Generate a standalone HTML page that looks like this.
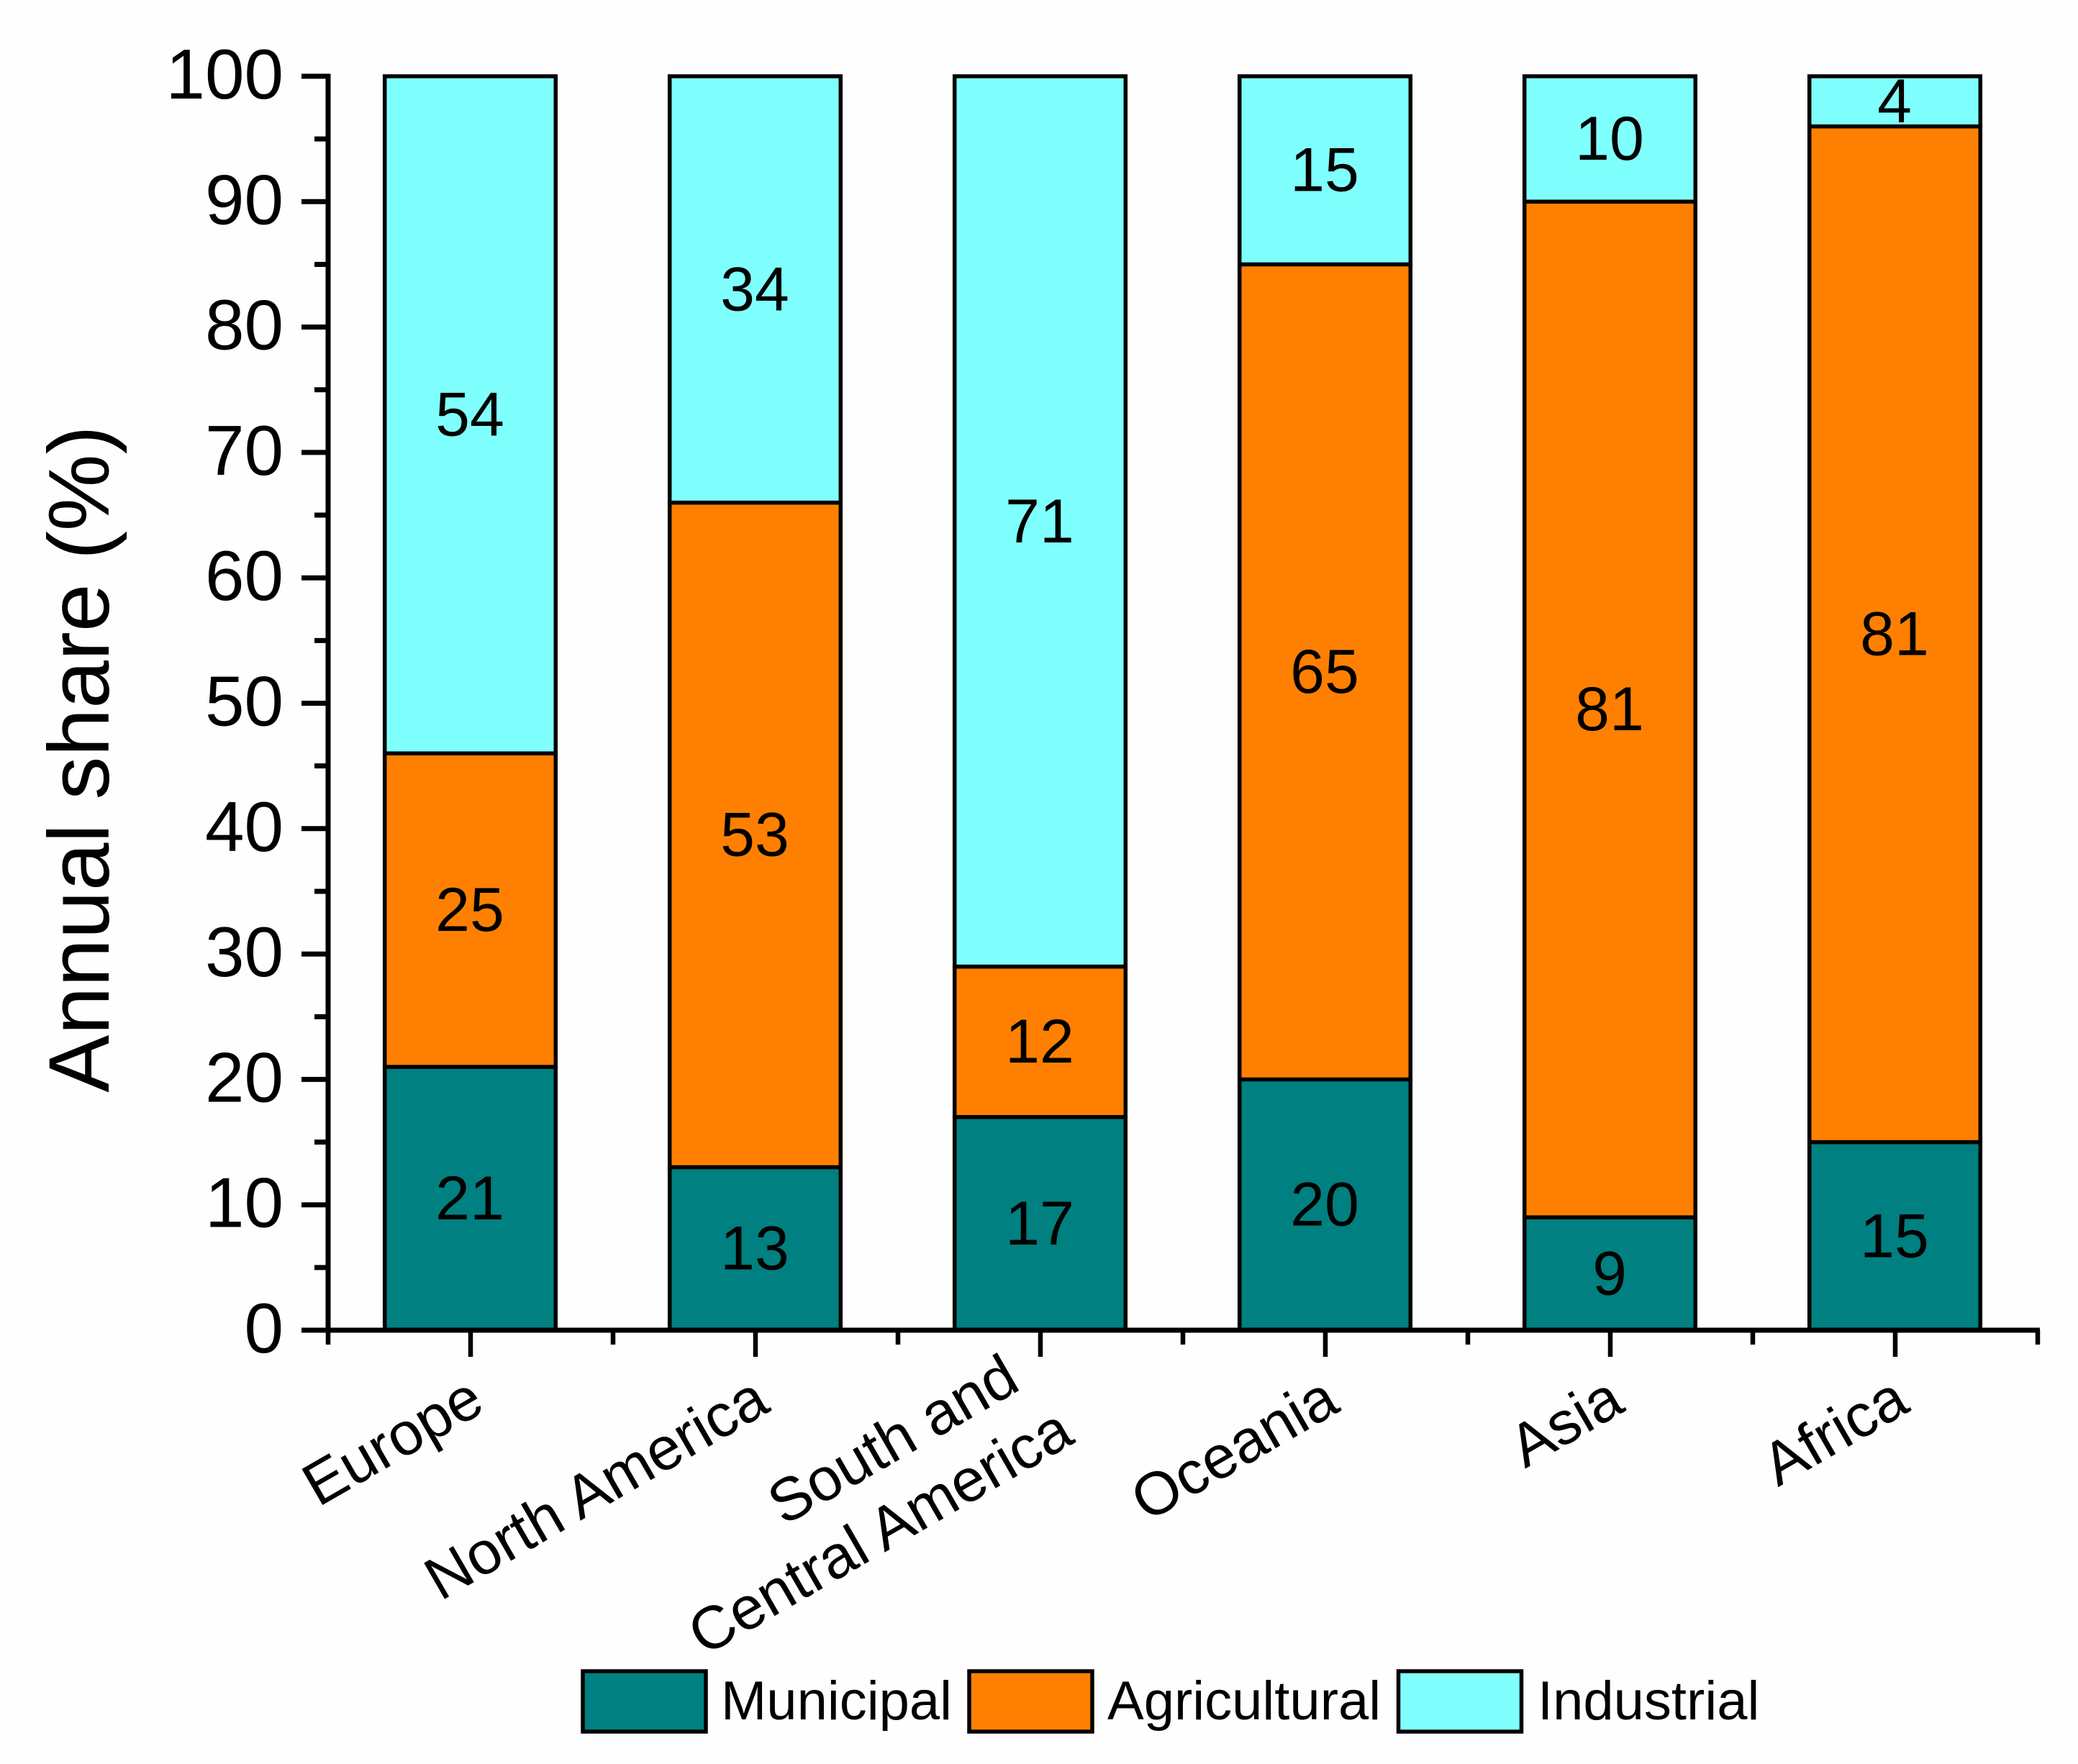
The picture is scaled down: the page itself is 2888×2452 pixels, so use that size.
<!DOCTYPE html>
<html lang="en">
<head>
<meta charset="utf-8">
<title>Annual water withdrawal share by continent</title>
<style>
  html, body { margin: 0; padding: 0; background: #ffffff; }
  svg { display: block; }
  text { font-family: "Liberation Sans", Arial, sans-serif; fill: #000000; }
</style>
</head>
<body>
<svg id="chart" xmlns="http://www.w3.org/2000/svg" width="2888" height="2452" viewBox="0 0 2888 2452">
  <rect x="0" y="0" width="2888" height="2452" fill="#fefefe"></rect>
  <g id="bars"></g>
  <g id="value-labels"></g>
  <g id="axes"></g>
  <g id="legend"></g>
</svg>
<script>
const categories = [["Europe"], ["North America"], ["South and", "Central America"], ["Oceania"], ["Asia"], ["Africa"]];
const municipal = [21, 13, 17, 20, 9, 15];
const agricultural = [25, 53, 12, 65, 81, 81];
const industrial = [54, 34, 71, 15, 10, 4];
const seriesNames = ["Municipal", "Agricultural", "Industrial"];
const yTickLabels = [0, 10, 20, 30, 40, 50, 60, 70, 80, 90, 100];
const yMinorTicks = [5, 15, 25, 35, 45, 55, 65, 75, 85, 95];

const seriesValues = [municipal, agricultural, industrial];
const seriesColors = ["#008080", "#ff8000", "#80ffff"];
const SVG_NS = "http://www.w3.org/2000/svg";
const PLOT_LEFT = 456, PLOT_RIGHT = 2832, PLOT_BOTTOM = 1849, PLOT_TOP = 106;
const BAR_FRACTION = 0.6;

function yScale(v) { return PLOT_BOTTOM - (v / 100) * (PLOT_BOTTOM - PLOT_TOP); }
function bandWidth() { return (PLOT_RIGHT - PLOT_LEFT) / categories.length; }
function xEdge(i) { return PLOT_LEFT + i * bandWidth(); }
function xCenter(i) { return xEdge(i) + bandWidth() / 2; }

function make(tag, parent, attrs) {
  const el = document.createElementNS(SVG_NS, tag);
  for (const k in attrs) el.setAttribute(k, attrs[k]);
  parent.appendChild(el);
  return el;
}

const barsG = document.getElementById("bars");
const valuesG = document.getElementById("value-labels");
const axesG = document.getElementById("axes");
const legendG = document.getElementById("legend");

// stacked bars and their printed values
categories.forEach(function (cat, i) {
  let base = 0;
  const w = bandWidth() * BAR_FRACTION;
  seriesValues.forEach(function (vals, s) {
    const v = vals[i];
    const yTop = yScale(base + v);
    const yBot = yScale(base);
    const r = make("rect", barsG, {
      x: xCenter(i) - w / 2 - 0.5, y: yTop, width: w, height: yBot - yTop,
      fill: seriesColors[s], stroke: "#000000", "stroke-width": 5.5
    });
    
    
    const t = make("text", valuesG, {
      x: xCenter(i) - 1, y: (yTop + yBot) / 2 + 29, "font-size": 86, "text-anchor": "middle"
    });
    t.textContent = String(v);
    
    
    base += v;
  });
});

// y axis
const yLine = make("line", axesG, {
  x1: PLOT_LEFT, x2: PLOT_LEFT, y1: PLOT_TOP - 3.5, y2: PLOT_BOTTOM + 3.5, stroke: "#000", "stroke-width": 7
});



yTickLabels.forEach(function (v) {
  const y = yScale(v);
  const tick = make("line", axesG, {
    x1: PLOT_LEFT - 37, x2: PLOT_LEFT, y1: y, y2: y, stroke: "#000", "stroke-width": 7
  });
  
  
  const label = make("text", axesG, {
    x: PLOT_LEFT - 62, y: y + 31, "font-size": 98, "text-anchor": "end"
  });
  label.textContent = String(v);
  
  
});

yMinorTicks.forEach(function (v) {
  const y = yScale(v);
  const tick = make("line", axesG, {
    x1: PLOT_LEFT - 19, x2: PLOT_LEFT, y1: y, y2: y, stroke: "#000", "stroke-width": 7
  });
  
  
});

const yTitle = make("text", axesG, {
  transform: "translate(151,1055) rotate(-90)", "font-size": 120, "text-anchor": "middle"
});
yTitle.textContent = "Annual share (%)";



// x axis
const xLine = make("line", axesG, {
  x1: PLOT_LEFT - 37, x2: PLOT_RIGHT + 3, y1: PLOT_BOTTOM, y2: PLOT_BOTTOM, stroke: "#000", "stroke-width": 7
});



for (let i = 0; i <= categories.length; i++) {
  const minor = make("line", axesG, {
    x1: xEdge(i), x2: xEdge(i), y1: PLOT_BOTTOM, y2: PLOT_BOTTOM + 20, stroke: "#000", "stroke-width": 6.5
  });
  
  
}

categories.forEach(function (lines, i) {
  const tick = make("line", axesG, {
    x1: xCenter(i), x2: xCenter(i), y1: PLOT_BOTTOM, y2: PLOT_BOTTOM + 37, stroke: "#000", "stroke-width": 6.5
  });
  
  
  lines.forEach(function (line, n) {
    let ax = xCenter(i) + 23, ay = 1960;
    if (lines.length === 2) {
      ax = xCenter(i) + (n === 0 ? -25 : 50);
      ay = n === 0 ? 1930 : 2004;
    }
    const label = make("text", axesG, {
      transform: "translate(" + ax + "," + ay + ") rotate(-30)", "font-size": 84, "text-anchor": "end"
    });
    label.textContent = line;
    
    
  });
});

// legend: swatch left edges and text offsets follow the reference layout
const legendSwatchX = [810, 1347, 1943.5];
const legendTextX = [1002, 1539, 2137];
seriesNames.forEach(function (name, s) {
  const swatch = make("rect", legendG, {
    x: legendSwatchX[s], y: 2323, width: 171, height: 84,
    fill: seriesColors[s], stroke: "#000000", "stroke-width": 5.5
  });
  
  
  const label = make("text", legendG, {
    x: legendTextX[s], y: 2390, "font-size": 76
  });
  label.textContent = name;
  
  
});
</script>
</body>
</html>
